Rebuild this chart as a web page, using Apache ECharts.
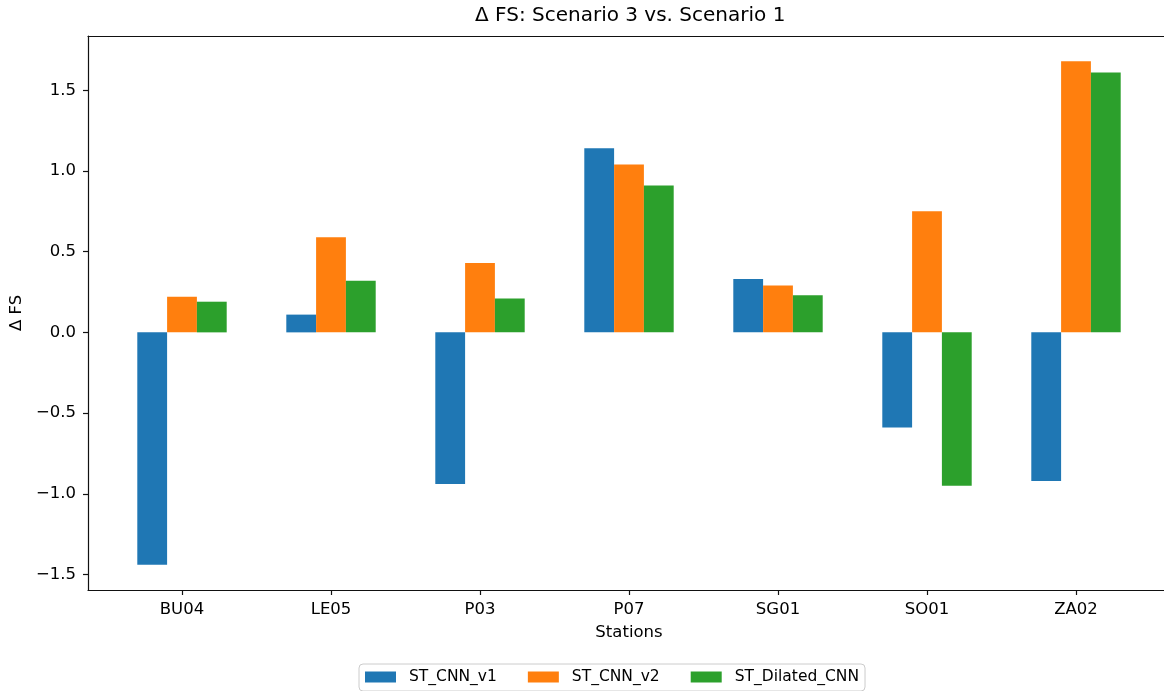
<!DOCTYPE html>
<html>
<head>
<meta charset="utf-8">
<script src="https://cdn.jsdelivr.net/npm/echarts@6/dist/echarts.min.js"></script>
<style>
  html, body { margin: 0; padding: 0; background: #fff; }
  #chart { width: 1164px; height: 691px; }
</style>
</head>
<body>
<div id="chart"></div>
<script>
// Stations on the x axis
const stations = ['BU04', 'LE05', 'P03', 'P07', 'SG01', 'SO01', 'ZA02'];

// Change in FS (Scenario 3 minus Scenario 1) per model
const stCnnV1 = [-1.44, 0.11, -0.94, 1.14, 0.33, -0.59, -0.92];
const stCnnV2 = [0.22, 0.59, 0.43, 1.04, 0.29, 0.75, 1.68];
const stDilatedCnn = [0.19, 0.32, 0.21, 0.91, 0.23, -0.95, 1.61];

// Value-axis range and tick positions
const yMin = -1.596;
const yMax = 1.836;
const yTicks = [-1.5, -1.0, -0.5, 0.0, 0.5, 1.0, 1.5];

const FONT = 'DejaVu Sans';
const fmt = v => v.toFixed(1).replace('-', '\u2212');
const spine = { show: true, onZero: false, lineStyle: { color: '#111', width: 1.2 } };

const chart = echarts.init(document.getElementById('chart'), null, { renderer: 'canvas' });

chart.setOption({
  animation: false,
  backgroundColor: '#ffffff',
  textStyle: { fontFamily: FONT },
  title: {
    text: '\u0394 FS: Scenario 3 vs. Scenario 1',
    left: 475,
    top: 6,
    padding: 0,
    textStyle: { fontFamily: FONT, fontSize: 20, fontWeight: 'normal', color: '#000' }
  },
  legend: {
    data: ['ST_CNN_v1', 'ST_CNN_v2', 'ST_Dilated_CNN'],
    left: 359,
    top: 664,
    orient: 'horizontal',
    icon: 'rect',
    itemWidth: 31,
    itemHeight: 11,
    itemGap: 31,
    padding: [5, 6, 6, 6],
    borderColor: '#cccccc',
    borderWidth: 1,
    borderRadius: 4,
    textStyle: { fontFamily: FONT, fontSize: 15.5, color: '#000', padding: [0, 0, 0, 8] }
  },
  grid: [
    // frame around the plotting area (left, bottom and top spines)
    { left: 88, top: 36, width: 1082, height: 554 },
    // bar area (category bands)
    { left: 107.5, top: 36, width: 1043, height: 554 }
  ],
  xAxis: [
    { gridIndex: 0, type: 'value', min: 0, max: 1, position: 'bottom', axisLine: spine,
      axisTick: { show: false }, axisLabel: { show: false }, splitLine: { show: false } },
    { gridIndex: 0, type: 'value', min: 0, max: 1, position: 'top', axisLine: spine,
      axisTick: { show: false }, axisLabel: { show: false }, splitLine: { show: false } },
    {
      gridIndex: 1,
      type: 'category',
      data: stations,
      boundaryGap: true,
      position: 'bottom',
      axisLine: { show: false, onZero: false },
      axisTick: { show: true, alignWithLabel: true, length: 5, lineStyle: { color: '#111', width: 1.2 } },
      axisLabel: { margin: 11, fontFamily: FONT, fontSize: 16.5, color: '#000' },
      splitLine: { show: false },
      name: 'Stations',
      nameLocation: 'middle',
      nameGap: 34,
      nameTextStyle: { fontFamily: FONT, fontSize: 16.5, color: '#000' }
    }
  ],
  yAxis: [
    {
      gridIndex: 0,
      type: 'value',
      min: yMin,
      max: yMax,
      axisLine: spine,
      axisTick: { show: true, length: 5, customValues: yTicks, lineStyle: { color: '#111', width: 1.2 } },
      axisLabel: { margin: 12, customValues: yTicks, formatter: fmt, fontFamily: FONT, fontSize: 16.5, color: '#000' },
      splitLine: { show: false },
      name: '\u0394 FS',
      nameLocation: 'middle',
      nameGap: 55,
      nameTextStyle: { fontFamily: FONT, fontSize: 16.5, color: '#000' }
    },
    { gridIndex: 1, type: 'value', min: yMin, max: yMax, show: false, splitLine: { show: false } }
  ],
  series: [
    { name: 'ST_CNN_v1', type: 'bar', xAxisIndex: 2, yAxisIndex: 1, data: stCnnV1, itemStyle: { color: '#1f77b4' }, barGap: '0%', barCategoryGap: '40%' },
    { name: 'ST_CNN_v2', type: 'bar', xAxisIndex: 2, yAxisIndex: 1, data: stCnnV2, itemStyle: { color: '#ff7f0e' }, barGap: '0%', barCategoryGap: '40%' },
    { name: 'ST_Dilated_CNN', type: 'bar', xAxisIndex: 2, yAxisIndex: 1, data: stDilatedCnn, itemStyle: { color: '#2ca02c' }, barGap: '0%', barCategoryGap: '40%' }
  ]
});
</script>
</body>
</html>
